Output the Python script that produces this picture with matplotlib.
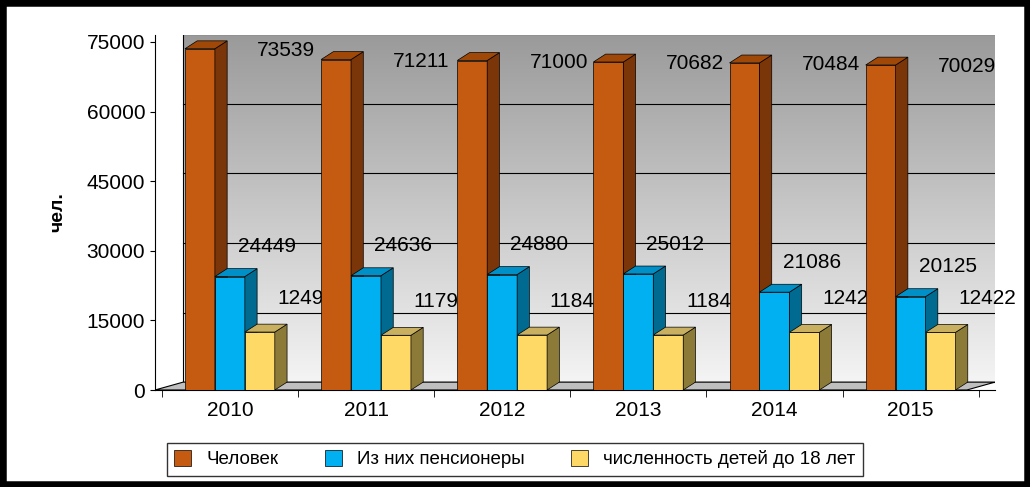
import matplotlib
matplotlib.use("Agg")
import matplotlib.pyplot as plt
import numpy as np
from matplotlib.patches import Polygon, Rectangle

plt.rcParams['font.family'] = ['Liberation Sans', 'DejaVu Sans']

years = ["2010", "2011", "2012", "2013", "2014", "2015"]
people = [73539, 71211, 71000, 70682, 70484, 70029]
pensioners = [24449, 24636, 24880, 25012, 21086, 20125]
children = [12490, 11791, 11846, 11846, 12422, 12422]
series_names = ["Человек", "Из них пенсионеры", "численность детей до 18 лет"]

front = ["#C55A11", "#00B0F0", "#FFD966"]
side = ["#7A3508", "#006A90", "#8C7A38"]
top = ["#A04808", "#0090C8", "#C8B060"]

fig = plt.figure(figsize=(10.3, 4.87), dpi=100)
fig.patch.set_facecolor("white")
fig.add_artist(Rectangle((0, 0), 1, 1, transform=fig.transFigure, fill=False,
                         edgecolor="black", linewidth=9))
ax = fig.add_axes([155/1030, 1-390/487, 840/1030, 355/487])
xl, xr = -0.55, 5.62
ax.set_xlim(xl, xr)
ax.set_ylim(0, 76500)
dx, dy = 0.09, 1700
w = 0.22

grad = np.linspace(0, 1, 200).reshape(-1, 1)
ax.imshow(grad, extent=[xl+dx*2.3, xr, dy, 75000+dy], aspect="auto",
          cmap=matplotlib.colors.LinearSegmentedColormap.from_list("g", ["#f4f4f4", "#9a9a9a"]),
          origin="lower", zorder=0)
for v in range(0, 75001, 15000):
    ax.plot([xl+dx*2.3, xr], [v+dy, v+dy], color="black", lw=0.8, zorder=1)
ax.plot([xl+dx*2.3, xl+dx*2.3], [dy, 75000+dy], color="black", lw=0.8, zorder=1)
ax.add_patch(Polygon([(xl, 0), (xl+dx*2.3, dy), (xr, dy), (xr-dx*2.3, 0)],
                     closed=True, facecolor="#bfbfbf", edgecolor="black", lw=0.8, zorder=1))

data = [people, pensioners, children]
offs = [-0.22, 0.0, 0.22]
for i in range(len(years)):
    zb = 10 + i*3
    for s in range(3):
        v = data[s][i]
        x0 = i + offs[s] - w/2
        ax.add_patch(Rectangle((x0, 0), w, v, facecolor=front[s], edgecolor="black", lw=0.5, zorder=zb+1))
        ax.add_patch(Polygon([(x0+w, 0), (x0+w+dx, dy), (x0+w+dx, v+dy), (x0+w, v)],
                             facecolor=side[s], edgecolor="black", lw=0.5, zorder=zb+1))
        ax.add_patch(Polygon([(x0, v), (x0+dx, v+dy), (x0+w+dx, v+dy), (x0+w, v)],
                             facecolor=top[s], edgecolor="black", lw=0.5, zorder=zb+1))
    ax.text(i+0.2, people[i]-400, str(people[i]), fontsize=15, ha="left", va="center", zorder=zb+2)
    ax.text(i+0.06, pensioners[i]+6400, str(pensioners[i]), fontsize=15, ha="left", va="center", zorder=zb)
    ax.text(i+0.35, children[i]+7300, str(children[i]), fontsize=15, ha="left", va="center", zorder=zb)

ax.set_xticks(range(len(years)))
ax.set_xticklabels(years, fontsize=15)
ax.set_xticks(np.arange(-0.5, 6, 1), minor=True)
ax.tick_params(axis="x", which="major", length=0, pad=8)
ax.tick_params(axis="x", which="minor", length=5)
ax.set_yticks(range(0, 75001, 15000))
ax.set_yticklabels([str(v) for v in range(0, 75001, 15000)], fontsize=15)
for sp in ["top", "right"]:
    ax.spines[sp].set_visible(False)
ax.set_ylabel("чел.", fontsize=14, fontweight="bold", labelpad=15)

handles = [Rectangle((0, 0), 1, 1, facecolor=c, edgecolor="black", lw=0.5) for c in front]
fig.legend(handles, series_names, ncol=3, loc="center", bbox_to_anchor=(0.5, 0.057),
           fontsize=13.5, frameon=True, fancybox=False, edgecolor="black",
           handlelength=0.9, handleheight=0.9, columnspacing=2.5)
fig.savefig("out.png", dpi=100)
